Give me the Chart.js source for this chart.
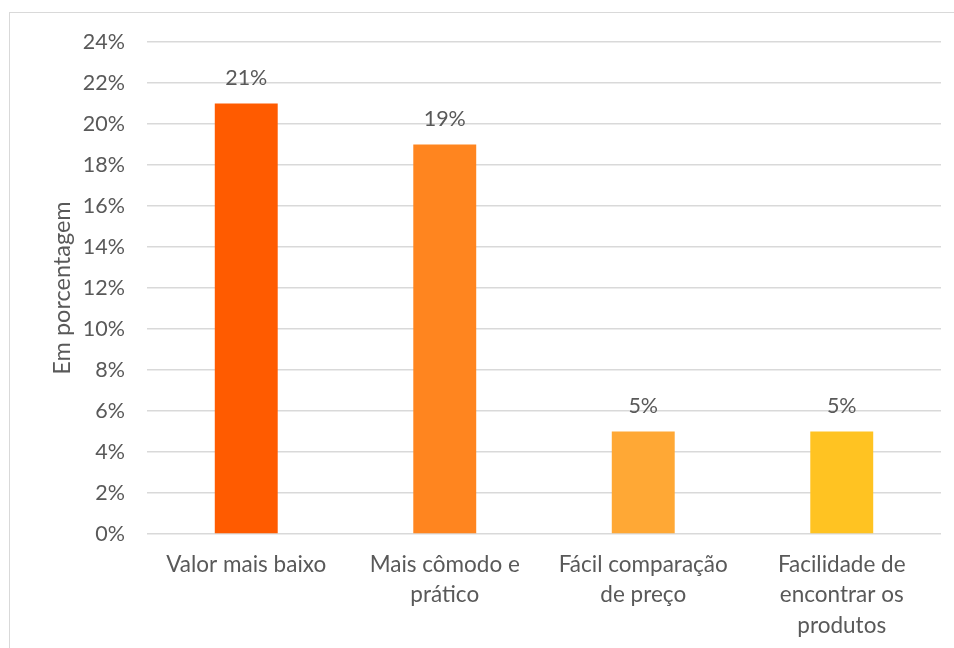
<!DOCTYPE html>
<html><head><meta charset="utf-8">
<script src="https://cdn.jsdelivr.net/npm/chart.js@4"></script>
<style>html,body{margin:0;padding:0;background:#fff;}#wrap{position:relative;width:954px;height:648px;}</style>
</head><body><div id="wrap"><canvas id="c" width="954" height="648"></canvas></div>
<script>
const categories = [
  ["Valor mais baixo"],
  ["Mais cômodo e", "prático"],
  ["Fácil comparação", "de preço"],
  ["Facilidade de", "encontrar os", "produtos"]
];
const values = [21, 19, 5, 5];
const barColors = ["#FF5B00", "#FF851F", "#FFA835", "#FFC322"];
const yTitle = "Em porcentagem";

const FONT = "Lato, 'Open Sans', sans-serif";
const TXT = "#595959";

const borderPlugin = {
  id: 'frame',
  beforeDraw(chart) {
    const ctx = chart.ctx;
    ctx.save();
    ctx.fillStyle = '#fff';
    ctx.fillRect(0, 0, chart.width, chart.height);
    ctx.strokeStyle = '#d9d9d9';
    ctx.lineWidth = 1;
    ctx.strokeRect(9.5, 12.5, 2000, 2000);
    ctx.restore();
  }
};
const labelPlugin = {
  id: 'vlabels',
  afterDatasetsDraw(chart) {
    const ctx = chart.ctx;
    const meta = chart.getDatasetMeta(0);
    ctx.save();
    ctx.font = "21.5px " + FONT;
    ctx.fillStyle = TXT;
    ctx.textAlign = 'center';
    ctx.textBaseline = 'middle';
    meta.data.forEach((bar, i) => {
      ctx.fillText(values[i] + '%', bar.x, bar.y - 25);
    });
    ctx.restore();
  }
};

new Chart(document.getElementById('c'), {
  type: 'bar',
  data: {
    labels: categories,
    datasets: [{ data: values, backgroundColor: barColors, barPercentage: 0.634, categoryPercentage: 0.5 }]
  },
  plugins: [borderPlugin, labelPlugin],
  options: {
    responsive: false,
    animation: false,
    layout: { padding: { left: 0, right: 13, top: 42, bottom: 0 } },
    plugins: { legend: { display: false }, tooltip: { enabled: false } },
    scales: {
      x: {
        grid: { display: false },
        border: { display: false },
        ticks: { color: TXT, font: { family: FONT, size: 22.5, lineHeight: 1.34 }, padding: 8, maxRotation: 0, autoSkip: false },
        afterFit(s) { s.height = 114; }
      },
      y: {
        min: 0, max: 24,
        grid: { color: '#d9d9d9', lineWidth: 1.5, drawTicks: false },
        border: { display: false },
        ticks: { stepSize: 2, color: TXT, font: { family: FONT, size: 21.5 }, padding: 22, callback: v => v + '%' },
        title: { display: true, text: yTitle, color: TXT, font: { family: FONT, size: 23.5 }, padding: { top: 48, bottom: 0 } },
        afterFit(s) { s.width = 147; }
      }
    }
  }
});
</script></body></html>
